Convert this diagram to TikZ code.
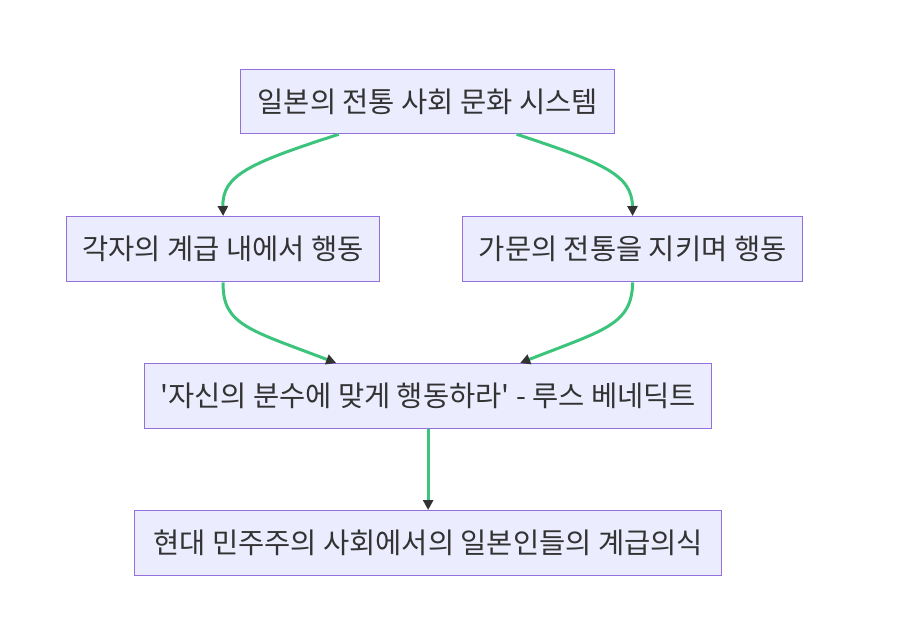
\documentclass[tikz,border=0pt]{standalone}
\usepackage{fontspec}
\newfontfamily\krfont{Noto Sans CJK KR}
\usetikzlibrary{arrows.meta}
\definecolor{nodefill}{HTML}{ECECFF}
\definecolor{nodeline}{HTML}{9370DB}
\definecolor{edge}{HTML}{3CC47C}
\definecolor{tip}{HTML}{333333}
\definecolor{txt}{HTML}{333333}
\tikzset{
  box/.style={draw=nodeline, fill=nodefill, line width=1.3pt, inner sep=0pt, anchor=north west, font=\krfont\fontsize{28.5}{32}\selectfont, text=txt},
  link/.style={draw=edge, line width=3pt, -{Triangle[length=10pt,width=10pt,color=tip]}}
}
\begin{document}
\begin{tikzpicture}[x=1pt,y=-1pt]
\useasboundingbox (0,0) rectangle (912,622);
\node[box, minimum width=374pt, minimum height=64pt] (top) at (240,69) {일본의 전통 사회 문화 시스템};
\node[box, minimum width=313pt, minimum height=65pt] (left) at (66,216) {각자의 계급 내에서 행동};
\node[box, minimum width=340pt, minimum height=65pt] (right) at (462,216) {가문의 전통을 지키며 행동};
\node[box, minimum width=567pt, minimum height=65pt] (mid) at (144,363) {'자신의 분수에 맞게 행동하라' - 루스 베네딕트};
\node[box, minimum width=587pt, minimum height=65pt] (bot) at (134,510) {현대 민주주의 사회에서의 일본인들의 계급의식};
\coordinate (t1) at ([xshift=-89pt]top.south);
\coordinate (t2) at ([xshift=89pt]top.south);
\coordinate (m1) at ([xshift=-92pt]mid.north);
\coordinate (m2) at ([xshift=92pt]mid.north);
\draw[link] (t1) .. controls (250,163) and (222,175) .. (left.north);
\draw[link] (t2) .. controls (604,163) and (632,175) .. (right.north);
\draw[link] (left.south) .. controls (222,325) and (250,330) .. (m1);
\draw[link] (right.south) .. controls (632,325) and (604,330) .. (m2);
\draw[link] (mid.south) -- (mid.south |- bot.north);
\end{tikzpicture}
\end{document}
